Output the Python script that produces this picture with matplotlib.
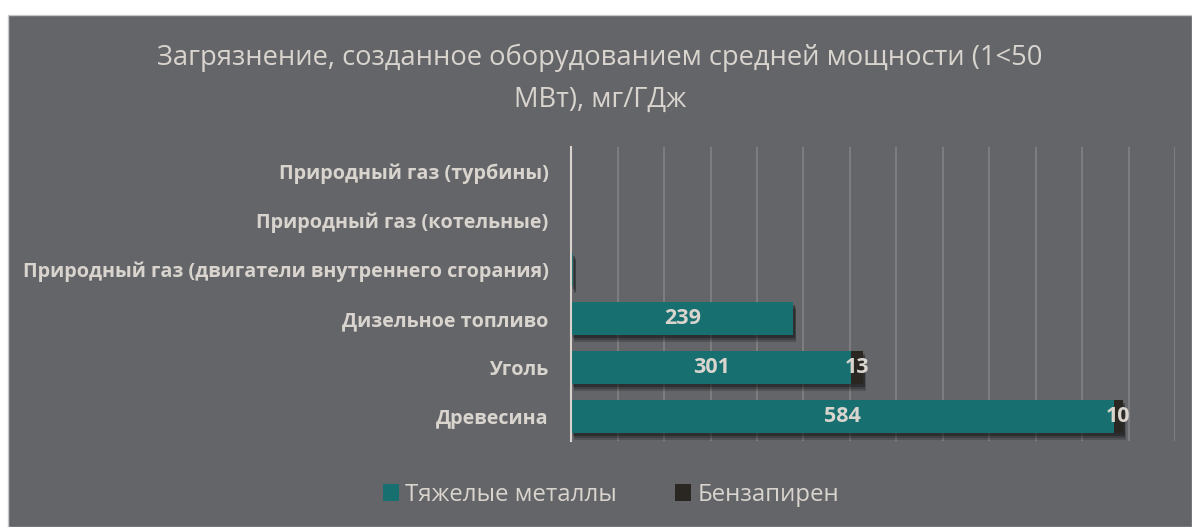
import matplotlib
matplotlib.use("Agg")
import matplotlib.pyplot as plt
from matplotlib.patches import Rectangle, Patch
import matplotlib.patheffects as pe

plt.rcParams['font.family'] = ['Open Sans', 'DejaVu Sans']

categories = [
    "Природный газ (турбины)",
    "Природный газ (котельные)",
    "Природный газ (двигатели внутреннего сгорания)",
    "Дизельное топливо",
    "Уголь",
    "Древесина",
]
heavy_metals = [0, 0, 2, 239, 301, 584]
benzapyrene = [0, 0, 0, 0, 13, 10]
series_names = ["Тяжелые металлы", "Бензапирен"]
title = "Загрязнение, созданное оборудованием средней мощности (1<50\nМВт), мг/ГДж"

BG = "#646569"
TEAL = "#17706F"
DARK = "#2A2722"
TXT = "#D9D4CE"
GRID = "#808082"

W, H = 1192, 527
fig = plt.figure(figsize=(W / 100, H / 100), dpi=100, facecolor="white")
fig.patches.append(Rectangle((8 / W, 0), (W - 8) / W, (H - 15) / H,
                             transform=fig.transFigure, facecolor=BG,
                             edgecolor="#C8C8C8", linewidth=1.0, zorder=-5))

ax = fig.add_axes([571.3 / W, 1 - 441 / H, (1175 - 571.3) / W, (441 - 147) / H])
ax.set_facecolor("none")
ax.set_zorder(2)

y = list(range(len(categories)))
shadow = [
    pe.SimplePatchShadow(offset=(2.2, -5.0), shadow_rgbFace="black", alpha=0.18),
    pe.SimplePatchShadow(offset=(1.8, -3.6), shadow_rgbFace="black", alpha=0.22),
    pe.SimplePatchShadow(offset=(1.4, -2.2), shadow_rgbFace="black", alpha=0.28),
    pe.Normal(),
]
b1 = ax.barh(y, heavy_metals, height=0.67, color=TEAL, zorder=3)
b2 = ax.barh(y, benzapyrene, left=heavy_metals, height=0.67, color=DARK, zorder=3)
for bars in (b1, b2):
    for r in bars:
        r.set_path_effects(shadow)

for i in y:
    h = heavy_metals[i]
    b = benzapyrene[i]
    if h >= 5:
        ax.text(h / 2, i, f"{h}", ha="center", va="center", color=TXT,
                fontsize=15.5, fontweight="bold", zorder=5)
    if b >= 5:
        ax.text(h + b / 2, i, f"{b}", ha="center", va="center", color=TXT,
                fontsize=15.5, fontweight="bold", zorder=5)

ax.set_xlim(0, 650)
ax.set_ylim(len(categories) - 0.5, -0.5)
ax.set_xticks(range(0, 651, 50))
ax.set_xticklabels([])
ax.set_yticks(y)
ax.set_yticklabels(categories, color=TXT, fontsize=14.25, fontweight="bold")
ax.tick_params(axis="both", length=0, pad=16.5)
ax.grid(axis="x", color=GRID, linewidth=1.3)
ax.set_axisbelow(True)
for s in ("top", "right", "bottom"):
    ax.spines[s].set_visible(False)
ax.spines["left"].set_color(TXT)
ax.spines["left"].set_linewidth(1.5)
ax.spines["left"].set_zorder(6)

fig.text(600 / W, 1 - 79 / H, title, ha="center", va="center", color=TXT,
         fontsize=19.7, linespacing=1.65)

handles = [Patch(facecolor=TEAL), Patch(facecolor=DARK)]
fig.legend(handles, series_names, loc="center", bbox_to_anchor=(611 / W, 1 - 495 / H),
           ncol=2, frameon=False, fontsize=17.3, labelcolor=TXT,
           handlelength=0.68, handleheight=0.68, handletextpad=0.25, columnspacing=2.4)

fig.savefig("out.png", dpi=100, facecolor="white")
